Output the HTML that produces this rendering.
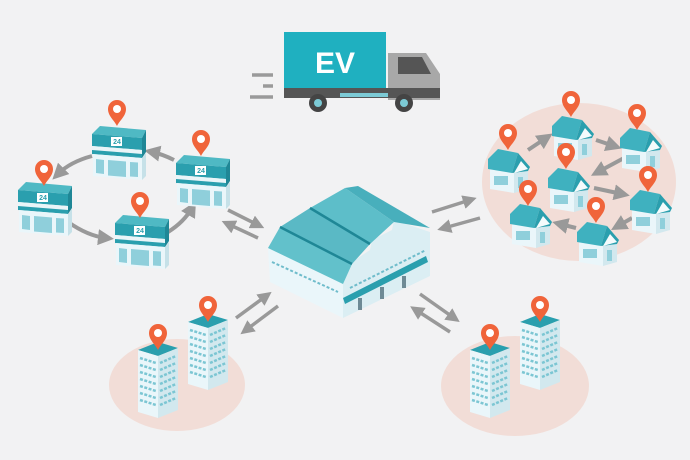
<!DOCTYPE html>
<html><head><meta charset="utf-8"><style>
html,body{margin:0;padding:0;background:#f2f2f3;}
svg{display:block}
text{font-family:"Liberation Sans",sans-serif}
</style></head><body>
<svg width="690" height="460" viewBox="0 0 690 460" xmlns="http://www.w3.org/2000/svg">
<defs>
  <g id="pin">
    <path d="M0,0 C-3,-6 -9,-10 -9,-17 A9,9 0 1,1 9,-17 C9,-10 3,-6 0,0Z" fill="#f0643a"/>
    <circle cx="0" cy="-17" r="4" fill="#fff"/>
  </g>
  <g id="store">
    <polygon points="0,8 8,0 54,4 50,12" fill="#4fb9c4"/>
    <polygon points="0,8 50,12 50,24 0,20" fill="#2a9fae"/>
    <polygon points="0,20 50,24 50,28 0,24" fill="#e9f5f8"/>
    <polygon points="0,24 50,28 50,32 0,28" fill="#2a9fae"/>
    <polygon points="50,12 54,4 54,26 50,32" fill="#1f8796"/>
    <polygon points="1,28 50,32 50,54 1,50" fill="#eaf6fa"/>
    <polygon points="50,32 54,27 54,50 50,54" fill="#c6e1e8"/>
    <polygon points="4,33 12,34 12,48 4,47" fill="#8fcfdb"/>
    <polygon points="16,34 34,35.5 34,51 16,49.5" fill="#8fcfdb"/>
    <polygon points="38,36 46,36.5 46,51 38,50.5" fill="#8fcfdb"/>
    <rect x="19" y="11" width="11" height="9" fill="#fff"/>
  </g>
  <g id="house">
    <polygon points="2,24 2,44 26,48 26,28" fill="#eaf6fa"/>
    <polygon points="26,28 26,48 40,44 40,24" fill="#d2e8ee"/>
    <polygon points="0,14 10,4 30,8 24,28 0,24" fill="#3fb1bf"/>
    <polygon points="30,8 42,22 40,26 24,28" fill="#2a9fae"/>
    <polygon points="26,28 33,16 40,24" fill="#f4fbfc"/>
    <rect x="6" y="31" width="14" height="9" fill="#8fcfdb"/>
    <rect x="30" y="32" width="5" height="11" fill="#8fcfdb"/>
  </g>
  <g id="tower">
    <polygon points="0,8 20,0 40,6 20,14" fill="#2a9fae"/>
    <polygon points="0,8 20,14 20,76 0,70" fill="#eaf6fa"/>
    <polygon points="20,14 40,6 40,68 20,76" fill="#d2e8ee"/>
    <g stroke="#7cc6d3" stroke-width="2.5" stroke-dasharray="3,1.5">
      <line x1="2" y1="16" x2="18" y2="21"/><line x1="2" y1="23" x2="18" y2="28"/>
      <line x1="2" y1="30" x2="18" y2="35"/><line x1="2" y1="37" x2="18" y2="42"/>
      <line x1="2" y1="44" x2="18" y2="49"/><line x1="2" y1="51" x2="18" y2="56"/>
      <line x1="2" y1="58" x2="18" y2="63"/>
      <line x1="22" y1="21" x2="38" y2="14"/><line x1="22" y1="28" x2="38" y2="21"/>
      <line x1="22" y1="35" x2="38" y2="28"/><line x1="22" y1="42" x2="38" y2="35"/>
      <line x1="22" y1="49" x2="38" y2="42"/><line x1="22" y1="56" x2="38" y2="49"/>
      <line x1="22" y1="63" x2="38" y2="56"/>
    </g>
  </g>
  <marker id="ah" markerWidth="4" markerHeight="4" refX="2" refY="2" orient="auto" markerUnits="strokeWidth">
    <path d="M0,0 L4,2 L0,4Z" fill="#999"/>
  </marker>
</defs>

<!-- ellipses -->
<ellipse cx="579" cy="182" rx="97" ry="79" fill="#f2ddd7"/>
<ellipse cx="177" cy="385" rx="68" ry="46" fill="#f2ddd7"/>
<ellipse cx="515" cy="386" rx="74" ry="50" fill="#f2ddd7"/>

<!-- truck -->
<g stroke="#9a9a9a" stroke-width="3.5">
  <line x1="252" y1="75" x2="273" y2="75"/>
  <line x1="263" y1="86" x2="273" y2="86"/>
  <line x1="250" y1="97" x2="273" y2="97"/>
</g>
<path d="M388,53 L426,53 L440,74 L440,100 L388,100Z" fill="#a8a8a8"/>
<path d="M398,57 L422,57 L431,74 L398,74Z" fill="#555"/>
<rect x="284" y="88" width="156" height="10" fill="#555"/>
<rect x="340" y="93" width="48" height="4" fill="#7ccad5"/>
<rect x="284" y="32" width="102" height="56" fill="#1fb0c0"/>
<text x="335" y="73" font-size="30" fill="#fff" text-anchor="middle" font-weight="bold">EV</text>
<circle cx="318" cy="103" r="9" fill="#444"/><circle cx="318" cy="103" r="4" fill="#7ccad5"/>
<circle cx="404" cy="103" r="9" fill="#444"/><circle cx="404" cy="103" r="4" fill="#7ccad5"/>

<!-- store loop arrows -->
<g fill="none" stroke="#999" stroke-width="4" marker-end="url(#ah)">
  <path d="M92,156 Q70,162 58,174"/>
  <path d="M68,222 Q88,236 106,238"/>
  <path d="M168,232 Q184,222 192,208"/>
  <path d="M174,160 Q162,154 152,152"/>
</g>

<!-- stores -->
<use href="#store" x="92" y="126"/><text x="117" y="144" font-size="7" text-anchor="middle" fill="#2a9fae" font-weight="bold">24</text>
<use href="#store" x="18" y="182"/><text x="43" y="200" font-size="7" text-anchor="middle" fill="#2a9fae" font-weight="bold">24</text>
<use href="#store" x="176" y="155"/><text x="201" y="173" font-size="7" text-anchor="middle" fill="#2a9fae" font-weight="bold">24</text>
<use href="#store" x="115" y="215"/><text x="140" y="233" font-size="7" text-anchor="middle" fill="#2a9fae" font-weight="bold">24</text>
<use href="#pin" x="117" y="126"/>
<use href="#pin" x="44" y="186"/>
<use href="#pin" x="201" y="156"/>
<use href="#pin" x="140" y="218"/>

<!-- exchange arrows -->
<g stroke="#999" stroke-width="3.5" marker-end="url(#ah)">
  <line x1="228" y1="210" x2="258" y2="225"/>
  <line x1="258" y1="238" x2="228" y2="224"/>
  <line x1="432" y1="212" x2="470" y2="200"/>
  <line x1="480" y1="218" x2="444" y2="228"/>
  <line x1="236" y1="318" x2="266" y2="296"/>
  <line x1="278" y1="306" x2="246" y2="330"/>
  <line x1="420" y1="294" x2="454" y2="318"/>
  <line x1="450" y1="332" x2="416" y2="310"/>
</g>

<!-- warehouse -->
<polygon points="268,248 343,283 343,318 270,282" fill="#eaf6fa"/>
<polygon points="343,283 352,262 370,250 372,240 392,230 394,220 430,232 430,276 343,318" fill="#dbeef3"/>
<!-- roofs -->
<polygon points="345,188 310,208 370,244 394,222" fill="#5dbec9"/>
<polygon points="310,208 280,227 352,264 370,244" fill="#5ab9c5"/>
<polygon points="280,227 268,248 343,284 352,264" fill="#62c1cb"/>
<polygon points="345,188 358,186 430,228 394,222" fill="#48afbc"/>
<g stroke="#1f8796" stroke-width="2.5">
  <line x1="310" y1="208" x2="370" y2="244"/>
  <line x1="280" y1="227" x2="352" y2="264"/>
</g>
<polygon points="343,298 426,256 428,262 345,304" fill="#2a9fae"/>
<g fill="#6d8a95"><rect x="358" y="298" width="4" height="12"/><rect x="380" y="287" width="4" height="12"/><rect x="402" y="276" width="4" height="12"/></g>
<g stroke="#6fbccb" stroke-width="2" stroke-dasharray="3,2">
  <line x1="272" y1="262" x2="338" y2="292"/>
  <line x1="350" y1="288" x2="426" y2="250"/>
</g>

<!-- houses right -->
<g fill="none" stroke="#999" stroke-width="4" marker-end="url(#ah)">
  <line x1="528" y1="150" x2="546" y2="138"/>
  <line x1="596" y1="140" x2="614" y2="146"/>
  <line x1="624" y1="158" x2="598" y2="172"/>
  <line x1="594" y1="188" x2="622" y2="194"/>
  <line x1="632" y1="218" x2="618" y2="226"/>
  <line x1="576" y1="228" x2="560" y2="224"/>
</g>
<use href="#house" x="488" y="145"/>
<use href="#house" x="552" y="112"/>
<use href="#house" x="620" y="124"/>
<use href="#house" x="548" y="164"/>
<use href="#house" x="630" y="186"/>
<use href="#house" x="510" y="200"/>
<use href="#house" x="577" y="218"/>
<use href="#pin" x="508" y="150"/>
<use href="#pin" x="571" y="117"/>
<use href="#pin" x="637" y="130"/>
<use href="#pin" x="566" y="169"/>
<use href="#pin" x="648" y="192"/>
<use href="#pin" x="528" y="206"/>
<use href="#pin" x="596" y="223"/>

<!-- towers -->
<use href="#tower" x="188" y="314"/>
<use href="#tower" x="138" y="342"/>
<use href="#pin" x="208" y="322"/>
<use href="#pin" x="158" y="350"/>
<use href="#tower" x="520" y="314"/>
<use href="#tower" x="470" y="342"/>
<use href="#pin" x="540" y="322"/>
<use href="#pin" x="490" y="350"/>
</svg>
</body></html>
